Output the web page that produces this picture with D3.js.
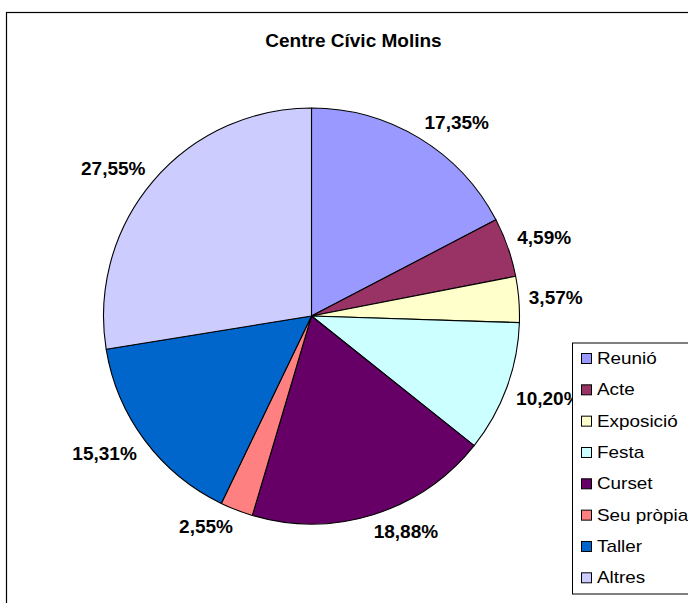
<!DOCTYPE html>
<html>
<head>
<meta charset="utf-8">
<script src="https://cdn.jsdelivr.net/npm/d3@7"></script>
<style>
  html, body { margin: 0; padding: 0; background: #fff; }
  svg { display: block; }
  text { font-family: Arial, "Liberation Sans", sans-serif; }
</style>
</head>
<body>
<svg id="chart" width="688" height="603"></svg>
<script>
const title = "Centre Cívic Molins";
const categories = ["Reunió", "Acte", "Exposició", "Festa", "Curset", "Seu pròpia", "Taller", "Altres"];
const values = [17.35, 4.59, 3.57, 10.20, 18.88, 2.55, 15.31, 27.55];
const labels = ["17,35%", "4,59%", "3,57%", "10,20%", "18,88%", "2,55%", "15,31%", "27,55%"];
const colors = ["#9999FF", "#993366", "#FFFFCC", "#CCFFFF", "#660066", "#FF8080", "#0066CC", "#CCCCFF"];

const W = 688, H = 603;
const cx = 311.5, cy = 316, R = 208;
const svg = d3.select("#chart");

// outer frame (extends beyond the visible area on right and bottom)
svg.append("rect")
  .attr("x", 6.5).attr("y", 12.5)
  .attr("width", 720).attr("height", 620)
  .attr("fill", "#fff").attr("stroke", "#000").attr("stroke-width", 1.2);

// title
svg.append("text")
  .attr("x", 353.5).attr("y", 47)
  .attr("text-anchor", "middle")
  .attr("font-size", 19).attr("font-weight", "bold")
  .text(title);

const pie = d3.pie().sort(null).value(d => d)(values);
const arc = d3.arc().innerRadius(0).outerRadius(R);

const g = svg.append("g").attr("transform", `translate(${cx},${cy})`);
g.selectAll("path").data(pie).join("path")
  .attr("d", arc)
  .attr("fill", (d, i) => colors[i])
  .attr("stroke", "#000")
  .attr("stroke-width", 1.1)
  .attr("stroke-linejoin", "round");

// data labels, placed just outside the pie (best-fit style)
const clamp = v => Math.max(-1, Math.min(1, v));
const lg = svg.append("g");
pie.forEach((d, i) => {
  const a = (d.startAngle + d.endAngle) / 2;
  const fs = 19;
  const t = lg.append("text")
    .attr("font-size", fs).attr("font-weight", "bold")
    .attr("text-anchor", "middle")
    .text(labels[i]);
  const w = t.node().getComputedTextLength();
  const h = 14;
  const gap = 10;
  const px = cx + (R + gap) * Math.sin(a);
  const py = cy - (R + gap) * Math.cos(a);
  const lx = px + (w / 2) * clamp(Math.sin(a) * 3);
  const ly = py - (h / 2) * clamp(Math.cos(a) * 3);
  t.attr("x", lx).attr("y", ly + 0.36 * fs);
});

// legend
const legX = 572.5, legY = 343, legH = 251;
svg.append("rect")
  .attr("x", legX).attr("y", legY)
  .attr("width", 140).attr("height", legH)
  .attr("fill", "#fff").attr("stroke", "#000").attr("stroke-width", 1);

const legendY = d3.scalePoint().domain(categories).range([364, 583.3]);
const items = svg.append("g").selectAll("g").data(categories).join("g")
  .attr("transform", d => `translate(0,${legendY(d)})`);
items.append("rect")
  .attr("x", 581.5).attr("y", -10.5)
  .attr("width", 10).attr("height", 10)
  .attr("fill", (d, i) => colors[i])
  .attr("stroke", "#000").attr("stroke-width", 1);
items.append("text")
  .attr("transform", "translate(597,0) scale(1.18,1)")
  .attr("font-size", 16)
  .text(d => d);
</script>
</body>
</html>
